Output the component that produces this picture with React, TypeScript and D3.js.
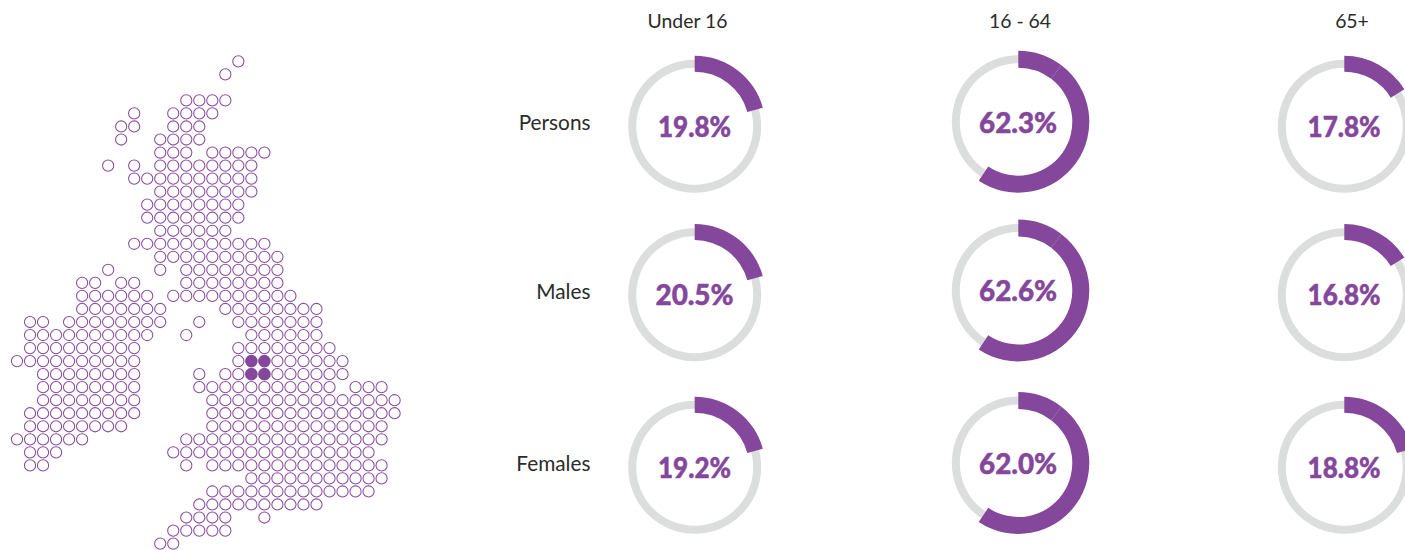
import React from "react";
import * as d3 from "d3";

const ageGroups = ["Under 16", "16 - 64", "65+"];
const sexes = ["Persons", "Males", "Females"];
const shareLabels = [
  ["19.8%", "62.3%", "17.8%"],
  ["20.5%", "62.6%", "16.8%"],
  ["19.2%", "62.0%", "18.8%"],
];
// the drawn arc length of each ring, in percent of the full circle
const drawnShares = [
  [20.75, 59.4, 16.2],
  [20.75, 59.4, 16.2],
  [20.75, 59.4, 20.75],
];
const seamShare = 10.4;

// map grid: each row lists runs of occupied columns [from, to]
const mapRows: number[][][] = [
  [[17, 17]],
  [[16, 16]],
  [],
  [[13, 16]],
  [[9, 9], [12, 15]],
  [[8, 9], [12, 14]],
  [[8, 8], [11, 14]],
  [[11, 13], [15, 19]],
  [[7, 7], [9, 9], [11, 18]],
  [[9, 18]],
  [[11, 18]],
  [[10, 17]],
  [[10, 17]],
  [[11, 16]],
  [[9, 19]],
  [[11, 20]],
  [[7, 7], [11, 11], [13, 20]],
  [[5, 6], [8, 9], [13, 20]],
  [[5, 10], [12, 21]],
  [[5, 11], [16, 23]],
  [[1, 2], [4, 11], [14, 14], [17, 23]],
  [[1, 10], [13, 13], [18, 23]],
  [[1, 9], [17, 24]],
  [[0, 9], [17, 25]],
  [[2, 9], [14, 14], [16, 25]],
  [[2, 9], [14, 24], [26, 28]],
  [[2, 9], [15, 29]],
  [[1, 9], [15, 29]],
  [[1, 8], [15, 28]],
  [[0, 5], [13, 28]],
  [[1, 3], [12, 27]],
  [[1, 2], [13, 13], [15, 28]],
  [[18, 28]],
  [[15, 27]],
  [[14, 23]],
  [[13, 16], [19, 19]],
  [[12, 16]],
  [[11, 12]],
];
const highlighted = ["23:18", "23:19", "24:18", "24:19"];

const PURPLE = "#84479b";
const GREY = "#dcdddd";
const INK = "#2b2b2b";
const FONT = "Lato, 'Open Sans', sans-serif";

const colX = d3.scaleLinear().domain([0, 29]).range([17, 394.6]);
const rowY = d3.scaleLinear().domain([0, 37]).range([61.3, 543.6]);

const ringCx: Record<string, number> = { "Under 16": 694.7, "16 - 64": 1018.3, "65+": 1344.3 };
const ringCy: Record<string, number[]> = {
  "Under 16": [126.3, 294.7, 467.3],
  "16 - 64": [121.7, 290.5, 463],
  "65+": [126.3, 294.7, 467.3],
};
const valueBase: Record<string, number[]> = {
  "Under 16": [136.8, 305.2, 477.8],
  "16 - 64": [132.6, 301, 473.8],
  "65+": [136.8, 305.2, 477.8],
};
const headerX: Record<string, number> = { "Under 16": 687.5, "16 - 64": 1020, "65+": 1352 };
const rowLabelBase = [129.5, 298.5, 470.5];

const angle = d3.scaleLinear().domain([0, 100]).range([0, 2 * Math.PI]);
const greyArc = d3.arc()({ innerRadius: 58.5, outerRadius: 66.5, startAngle: 0, endAngle: 2 * Math.PI })!;

function band(age: string, from: number, to: number) {
  const big = age === "16 - 64";
  return d3.arc()({
    innerRadius: big ? 54 : 54.6,
    outerRadius: big ? 71 : 70.6,
    startAngle: angle(from),
    endAngle: angle(to),
  })!;
}

export default function App() {
  return (
    <svg
      width={1405}
      height={550}
      viewBox="0 0 1405 550"
      style={{ position: "absolute", left: 0, top: 0, background: "#fff" }}
    >
      <g fill="none" stroke="#8a4ca0" strokeWidth={1.05}>
        {mapRows.flatMap((runs, r) =>
          runs.flatMap(([a, b]) =>
            d3.range(a, b + 1).map((c) => {
              const on = highlighted.includes(`${r}:${c}`);
              return (
                <circle
                  key={`${r}-${c}`}
                  cx={colX(c)}
                  cy={rowY(r)}
                  r={on ? 6.3 : 5.6}
                  fill={on ? PURPLE : "none"}
                  stroke={on ? "none" : undefined}
                />
              );
            })
          )
        )}
      </g>

      {ageGroups.map((age) => (
        <text key={age} x={headerX[age]} y={28} textAnchor="middle" fontFamily={FONT} fontSize={19.4} fill={INK}>
          {age}
        </text>
      ))}
      {sexes.map((s, i) => (
        <text key={s} x={590.5} y={rowLabelBase[i]} textAnchor="end" fontFamily={FONT} fontSize={20.8} fill={INK}>
          {s}
        </text>
      ))}

      {sexes.map((s, i) =>
        ageGroups.map((age, j) => {
          const cx = ringCx[age];
          const cy = ringCy[age][i];
          const share = drawnShares[i][j];
          const label = shareLabels[i][j];
          return (
            <g key={`${s}-${age}`}>
              <g transform={`translate(${cx},${cy})`}>
                <path d={greyArc} fill={GREY} />
                {age === "16 - 64" ? (
                  <>
                    <path d={band(age, 0, seamShare)} fill={PURPLE} />
                    <path d={band(age, seamShare, share)} fill={PURPLE} />
                  </>
                ) : (
                  <path d={band(age, 0, share)} fill={PURPLE} />
                )}
              </g>
              <text
                x={cx - 0.2}
                y={valueBase[age][i]}
                textAnchor="middle"
                fontFamily={FONT}
                fontWeight={900}
                fontSize={29}
                fill={PURPLE}
                stroke={PURPLE}
                strokeWidth={0.5}
                textLength={label.startsWith("1") ? 73 : 78}
                lengthAdjust="spacingAndGlyphs"
              >
                {label}
              </text>
            </g>
          );
        })
      )}
    </svg>
  );
}
